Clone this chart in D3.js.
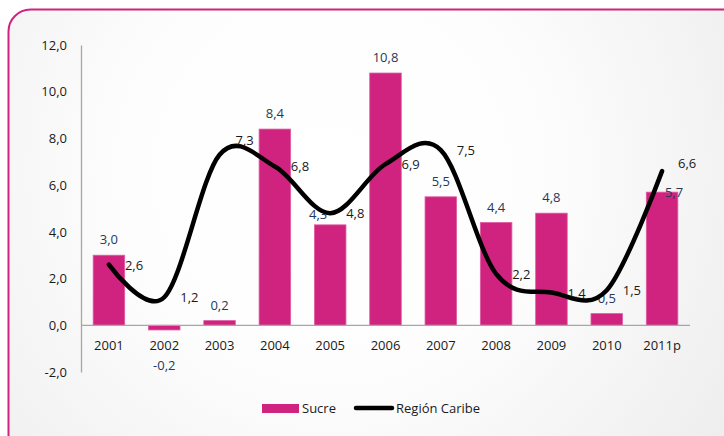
<!DOCTYPE html>
<html>
<head>
<meta charset="utf-8">
<script src="https://cdn.jsdelivr.net/npm/d3@7"></script>
<style>
  html, body { margin: 0; padding: 0; background: #ffffff; }
  svg { display: block; font-family: "Open Sans", "Noto Sans", sans-serif; }
</style>
</head>
<body>
<svg id="chart" width="724" height="436"></svg>
<script>
// Crecimiento anual del PIB (%): Sucre vs. Región Caribe
const years = ["2001", "2002", "2003", "2004", "2005", "2006", "2007", "2008", "2009", "2010", "2011p"];
const sucre = [3.0, -0.2, 0.2, 8.4, 4.3, 10.8, 5.5, 4.4, 4.8, 0.5, 5.7];
const caribe = [2.6, 1.2, 7.3, 6.8, 4.8, 6.9, 7.5, 2.2, 1.4, 1.5, 6.6];
const yTicks = [-2, 0, 2, 4, 6, 8, 10, 12];
const seriesNames = ["Sucre", "Región Caribe"];

const W = 724, H = 436;
const barColor = "#d0237f";
const barLabelColor = "#1f3a5c";
const fmt = v => d3.format(".1f")(v).replace(".", ",").replace("−", "-");

const svg = d3.select("#chart");

// panel background with soft radial glow
const defs = svg.append("defs");
const grad = defs.append("radialGradient")
  .attr("id", "bg").attr("gradientUnits", "userSpaceOnUse")
  .attr("cx", 330).attr("cy", 170).attr("r", 470);
grad.append("stop").attr("offset", "0").attr("stop-color", "#ffffff");
grad.append("stop").attr("offset", "0.45").attr("stop-color", "#fdfdfd");
grad.append("stop").attr("offset", "1").attr("stop-color", "#eeeeee");

svg.append("rect")
  .attr("x", 8.5).attr("y", 9.5)
  .attr("width", 745).attr("height", 450)
  .attr("rx", 22).attr("ry", 22)
  .attr("fill", "url(#bg)")
  .attr("stroke", "#d0237f").attr("stroke-width", 2);

// scales
const x = d3.scaleBand().domain(years).range([81, 690]).paddingInner(0.43).paddingOuter(0.22);
const y = d3.scaleLinear().domain([-2, 12]).range([372, 45]);
const cx = d => x(d) + x.bandwidth() / 2;

// y axis
const yAxis = svg.append("g").attr("transform", "translate(81,0)")
  .call(d3.axisLeft(y).tickValues(yTicks).tickSize(0).tickPadding(14).tickFormat(fmt));
yAxis.select(".domain").attr("stroke", "#a6a6a6").attr("stroke-width", 1.3);
yAxis.selectAll("text").attr("font-size", 13).attr("fill", "#1a1a1a")
  .attr("font-family", "'Open Sans', sans-serif");

// bars
svg.append("g").selectAll("rect")
  .data(years.map((c, i) => ({ c, v: sucre[i] })))
  .join("rect")
  .attr("x", d => x(d.c))
  .attr("width", x.bandwidth())
  .attr("y", d => y(Math.max(0, d.v)))
  .attr("height", d => Math.abs(y(d.v) - y(0)))
  .attr("fill", barColor)
  .attr("stroke", "#e05aa2").attr("stroke-width", 0.8);

// zero baseline
svg.append("line")
  .attr("x1", 81).attr("x2", 690)
  .attr("y1", y(0)).attr("y2", y(0))
  .attr("stroke", "#a6a6a6").attr("stroke-width", 1.3);

// category labels
svg.append("g").selectAll("text")
  .data(years).join("text")
  .attr("x", d => cx(d)).attr("y", y(0) + 25)
  .attr("text-anchor", "middle")
  .attr("font-size", 13).attr("fill", "#1a1a1a")
  .text(d => d);

// bar value labels (a couple nudged where the line crosses them)
const barNudge = { "2005": [-12, 5], "2011p": [12, 16] };
svg.append("g").selectAll("text")
  .data(years.map((c, i) => ({ c, v: sucre[i] })))
  .join("text")
  .attr("x", d => cx(d.c) + (barNudge[d.c] ? barNudge[d.c][0] : 0))
  .attr("y", d => d.v < 0 ? y(0) + 45 : y(d.v) - 11 + (barNudge[d.c] ? barNudge[d.c][1] : 0))
  .attr("text-anchor", "middle")
  .attr("font-size", 13).attr("fill", barLabelColor)
  .text(d => fmt(d.v));

// Región Caribe smoothed line
const line = d3.line()
  .x((d, i) => cx(years[i]))
  .y(d => y(d))
  .curve(d3.curveCardinal.tension(0));
svg.append("path")
  .datum(caribe)
  .attr("d", line)
  .attr("fill", "none")
  .attr("stroke", "#000")
  .attr("stroke-width", 4.5)
  .attr("stroke-linecap", "round");

// line value labels, placed to the right of each point
const lineDy = { "2003": -15, "2011p": -8 };
svg.append("g").selectAll("text")
  .data(years.map((c, i) => ({ c, v: caribe[i] })))
  .join("text")
  .attr("x", d => cx(d.c) + 16)
  .attr("y", d => y(d.v) + 5 + (lineDy[d.c] || 0))
  .attr("font-size", 13).attr("fill", "#1a1a1a")
  .text(d => fmt(d.v));

// legend
const lg = svg.append("g");
lg.append("rect").attr("x", 262).attr("y", 404).attr("width", 37).attr("height", 9).attr("fill", barColor);
lg.append("text").attr("x", 302).attr("y", 413).attr("font-size", 13).attr("fill", "#1a1a1a").text(seriesNames[0]);
lg.append("line").attr("x1", 356).attr("x2", 392).attr("y1", 408).attr("y2", 408)
  .attr("stroke", "#000").attr("stroke-width", 4.5).attr("stroke-linecap", "round");
lg.append("text").attr("x", 396).attr("y", 413).attr("font-size", 13).attr("fill", "#1a1a1a").text(seriesNames[1]);
</script>
</body>
</html>
